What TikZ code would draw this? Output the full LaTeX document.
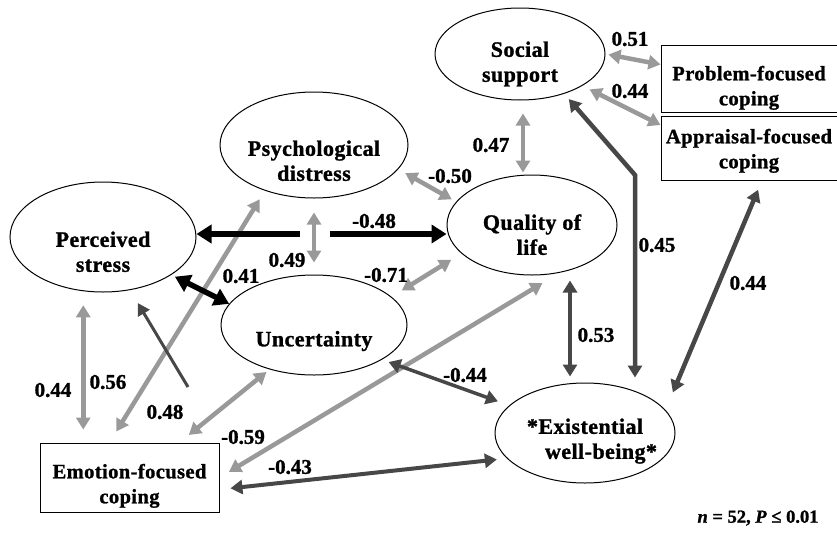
\documentclass[tikz,border=0pt]{standalone}
\usepackage{fontspec}
\setmainfont{Liberation Serif}[BoldFeatures={FakeBold=1.2},BoldItalicFeatures={FakeBold=1.2}]
\newfontfamily\ellfont{Liberation Serif}[LetterSpace=2,BoldFeatures={FakeBold=1.2}]
\newfontfamily\boxfont{Liberation Serif}[LetterSpace=2,BoldFeatures={FakeBold=1.2}]
\usetikzlibrary{shapes.geometric,arrows.meta,calc}
\newcommand\lowtext[2]{\raisebox{-#1}[0pt][0pt]{\begin{tabular}[t]{@{}c@{}}#2\end{tabular}}}
\tikzset{
  ell/.style={ellipse, draw, line width=1pt, inner sep=0pt,
    font=\ellfont\bfseries\fontsize{22}{25}\selectfont},
  boxnode/.style={rectangle, draw, line width=1pt, inner sep=0pt,
    font=\boxfont\bfseries\fontsize{20.5}{25}\selectfont},
  lab/.style={font=\bfseries\fontsize{21}{24}\selectfont, inner sep=0pt},
  lightarr/.style={draw=black!40, line width=4.5pt,
    {Triangle[length=12pt,width=14pt]}-{Triangle[length=12pt,width=14pt]}},
  darkarr/.style={draw=black!72, line width=4.5pt,
    {Triangle[length=12pt,width=14pt]}-{Triangle[length=12pt,width=14pt]}},
  darkthin/.style={draw=black!72, line width=3pt, -{Triangle[length=12pt,width=13pt]}},
  blackarr/.style={draw=black, line width=5.5pt,
    {Triangle[length=15pt,width=18pt]}-{Triangle[length=15pt,width=18pt]}},
  blackone/.style={draw=black, line width=5.5pt, -{Triangle[length=15pt,width=18pt]}},
}
\begin{document}
\begin{tikzpicture}[x=1pt,y=-1pt]
\useasboundingbox (0,0) rectangle (837,533);
% nodes
\node[ell, minimum width=170pt, minimum height=92pt] (soc) at (520,54) {\lowtext{2.8pt}{Social\\support}};
\node[ell, minimum width=188pt, minimum height=106pt] (psy) at (314,145) {\lowtext{10.8pt}{Psychological\\distress}};
\node[ell, minimum width=186pt, minimum height=110pt] (per) at (103,237) {\lowtext{9.8pt}{Perceived\\stress}};
\node[ell, minimum width=170pt, minimum height=100pt] (qol) at (532,225) {\lowtext{4.8pt}{Quality of\\life}};
\node[ell, minimum width=186pt, minimum height=100pt] (unc) at (314,325) {\lowtext{21.3pt}{Uncertainty}};
\node[ell, minimum width=180pt, minimum height=100pt] (exi) at (585,433) {\lowtext{0.8pt}{*Existential\\\hspace*{16pt}well-being*\hspace*{-16pt}}};
\node[boxnode, minimum width=176pt, minimum height=67pt] (prob) at (749,78.5) {\lowtext{1.8pt}{Problem-focused\\coping}};
\node[boxnode, minimum width=176pt, minimum height=64pt] (appr) at (749,148) {\lowtext{-4.7pt}{Appraisal-focused\\coping}};
\node[boxnode, minimum width=179pt, minimum height=69pt] (emo) at (129.5,477.5) {\lowtext{0.8pt}{Emotion-focused\\coping}};
% light connectors
\draw[lightarr, shorten <=14pt, shorten >=13pt] (per.-110) -- (per.-110 |- emo.north);
\draw[lightarr, shorten <=13pt, shorten >=10pt] ([xshift=-20pt]emo.north) -- (psy.-137);
\draw[lightarr, shorten <=4pt, shorten >=12pt] (unc.-135) -- ([xshift=50pt]emo.north);
\draw[lightarr, shorten <=20pt, shorten >=11pt] (qol.-60) -- (emo.east);
\draw[lightarr, shorten <=12pt, shorten >=12pt] (unc.20) -- (qol.-158);
\draw[lightarr, shorten <=8pt, shorten >=5pt] (psy.-16) -- (qol.163);
\draw[lightarr, shorten <=13pt, shorten >=2pt] ([xshift=3pt]soc.south) -- ([xshift=3pt]soc.south |- qol.north);
\draw[lightarr, shorten <=3pt] (soc.east) -- ([yshift=14pt]prob.west);
\draw[lightarr, shorten <=8pt] (soc.-27) -- ([yshift=23pt]appr.west);
\draw[lightarr, shorten <=14pt, shorten >=12pt] (psy.south) -- (unc.north);
% dark connectors
\coordinate (b45) at (635,175);
\draw[darkarr, shorten <=7pt, shorten >=5pt] (soc.-42) -- (b45) -- (b45 |- exi.north);
\draw[darkarr, shorten <=10pt, shorten >=19pt] ([xshift=13pt]appr.south) -- (exi.16);
\draw[darkarr, shorten <=5pt, shorten >=6pt] ([xshift=38pt]qol.south) -- ([xshift=-15pt]exi.north);
\draw[darkarr, line width=3.5pt, shorten <=7pt, shorten >=12pt] (unc.-27) -- (exi.160);
\draw[darkarr, line width=4pt, shorten <=11pt, shorten >=10pt] ([yshift=-12pt]emo.east) -- (exi.-162);
\coordinate (s3) at (188,387);
\draw[darkthin, shorten >=15pt] (s3) -- (per.-63);
% black connectors
\draw[blackarr, shorten <=4pt] (per.-29) -- (unc.166);
\coordinate (g1) at (300,234);
\coordinate (g2) at (330,234);
\draw[blackone] (g1) -- (per.east |- g1);
\draw[blackone] (g2) -- (qol.west |- g2);
% labels
\node[lab] (l1) at (374,221) {-0.48};
\node[lab] (l2) at (287,260) {0.49};
\node[lab] (l3) at (241,276) {0.41};
\node[lab] (l4) at (386,275) {-0.71};
\node[lab] (l5) at (450,176) {-0.50};
\node[lab] (l6) at (491,145) {0.47};
\node[lab] (l7) at (630,39) {0.51};
\node[lab] (l8) at (630,91) {0.44};
\node[lab] (l9) at (657,245) {0.45};
\node[lab] (l10) at (748,283) {0.44};
\node[lab] (l11) at (596,335) {0.53};
\node[lab] (l12) at (465,375) {-0.44};
\node[lab] (l13) at (243,437) {-0.59};
\node[lab] (l14) at (290,467) {-0.43};
\node[lab] (l15) at (53,390) {0.44};
\node[lab] (l16) at (108,382) {0.56};
\node[lab] (l17) at (165,412) {0.48};
\node[font=\bfseries\fontsize{18.5}{20}\selectfont, inner sep=0pt] (note) at (758,518) {\textit{n} = 52, \textit{P} ≤ 0.01};
\end{tikzpicture}
\end{document}
